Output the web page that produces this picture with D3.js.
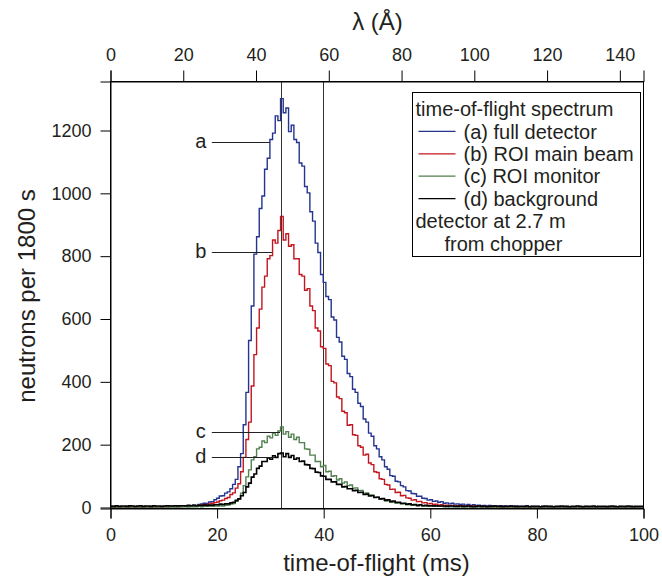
<!DOCTYPE html>
<html>
<head>
<meta charset="utf-8">
<script src="https://cdn.jsdelivr.net/npm/d3@7"></script>
<style>
  body { margin: 0; background: #fff; }
  #chart text { font-family: "Liberation Sans", Arial, Helvetica, sans-serif; fill: #231f20; }
</style>
</head>
<body>
<div id="chart"></div>
<script>
// time-of-flight bins: 0.5 ms wide, starting at 0 ms
const tofStart = 0;
const binWidth = 0.5;
const tofTicks = [0, 20, 40, 60, 80, 100];
const lambdaTicks = [0, 20, 40, 60, 80, 100, 120, 140];
const lambdaMax = 146.5; // lambda at 100 ms for 2.7 m flight path
const countTicks = [0, 200, 400, 600, 800, 1000, 1200];
const markerTimes = [32, 40];

// (a) full detector
const fullDetector = [
  1,0,2,1,0,1,2,0,1,1, 2,0,1,2,1,0,2,1,1,2,
  2,1,3,2,1,3,2,4,2,3,
  4,6,5,8,10,12,11,16,17,23,
  28,35,36,44,48,58,72,88,128,170,
  262,365,530,640,805,860,950,990,1075,1110,
  1170,1190,1245,1230,1300,1255,1270,1195,1215,1170,
  1160,1095,1085,1020,1000,940,910,840,810,740,
  715,670,660,605,595,540,525,480,470,425,
  415,375,365,330,320,280,270,235,225,195,
  185,160,150,128,120,100,98,82,80,68,
  64,52,51,43,42,34,34,28,27,22,
  23,18,19,15,17,12,13,10,12,9,
  10,8,9,6,8,5,7,5,6,4,
  5,3,5,3,4,2,4,3,3,2,
  3,2,3,1,2,2,3,1,2,2,
  2,1,2,1,1,2,1,1,2,1,
  1,2,1,1,1,2,1,1,2,1,
  1,1,2,1,1,1,2,1,0,1,
  1,2,1,1,1,1,2,1,1,1
];

// (b) ROI main beam
const mainBeam = [
  0,1,0,1,1,0,1,0,2,1, 0,1,1,0,1,2,1,0,1,1,
  1,2,1,2,2,1,3,2,2,3,
  3,4,4,5,6,7,8,10,12,14,
  16,20,22,27,30,40,45,60,74,112,
  158,215,270,385,485,570,630,700,735,790,
  800,850,840,880,925,850,870,830,835,790,
  790,740,735,690,695,640,625,570,560,510,
  505,455,450,400,395,350,345,305,300,260,
  262,230,228,195,190,165,168,140,135,112,
  110,90,88,72,70,56,57,46,47,36,
  37,29,28,22,23,17,18,13,14,10,
  11,8,9,6,7,5,6,4,5,3,
  4,3,4,2,3,2,3,2,2,1,
  2,1,2,1,2,1,1,2,1,1,
  1,1,2,1,1,0,1,1,1,0,
  1,1,0,1,1,0,1,1,0,1,
  1,0,1,1,0,1,0,1,1,0,
  1,0,1,1,0,1,0,1,1,0,
  1,0,1,0,1,1,0,1,0,1
];

// (c) ROI monitor
const monitor = [
  0,0,1,0,0,1,0,0,1,0, 0,1,0,0,1,0,0,1,0,0,
  1,0,1,0,1,1,0,1,1,0,
  1,1,1,2,1,2,2,3,2,3,
  3,4,3,5,6,9,11,18,26,44,
  68,96,118,150,160,185,190,210,205,225,
  220,235,228,242,255,232,240,222,232,215,
  222,205,205,185,184,165,165,145,145,128,
  132,112,114,98,100,86,90,76,80,68,
  70,60,61,52,53,44,45,38,38,31,
  31,25,25,19,20,15,16,12,13,9,
  10,7,8,5,6,4,5,3,4,2,
  3,2,3,2,2,1,2,1,1,1,
  1,1,0,1,1,0,1,0,1,0,
  1,0,0,1,0,1,0,0,1,0,
  0,1,0,0,1,0,0,1,0,0,
  1,0,0,0,1,0,1,0,0,1,
  0,0,1,0,0,1,0,0,0,1,
  0,1,0,0,1,0,0,1,0,0,
  1,0,0,1,0,0,1,0,0,1
];

// (d) background
const background = [
  3,2,4,2,3,3,2,4,3,2, 3,4,2,3,3,2,4,3,3,2,
  3,4,3,3,4,3,4,4,3,5,
  4,5,4,5,5,6,5,6,6,7,
  7,9,8,10,10,13,15,21,26,36,
  46,64,76,95,105,123,130,145,145,156,
  152,163,158,170,172,160,170,158,164,152,
  156,145,146,135,134,123,122,111,110,99,
  98,88,88,80,80,72,72,64,65,58,
  58,52,53,46,47,40,41,35,36,30,
  31,26,27,22,23,18,19,15,15,12,
  12,9,10,7,8,5,7,4,5,4,
  4,3,4,3,3,3,2,3,3,2,
  2,3,2,2,3,2,1,2,3,2,
  2,1,2,2,3,2,2,1,2,2,
  3,2,1,2,2,2,3,1,2,2,
  2,1,2,3,2,2,1,2,2,3,
  2,2,1,2,2,3,2,1,2,2,
  2,3,1,2,2,2,1,2,3,2,
  1,2,2,2,3,2,1,2,2,2
];

const seriesNames = ["(a) full detector", "(b) ROI main beam", "(c) ROI monitor", "(d) background"];
const seriesColors = ["#24348f", "#c3161e", "#52804f", "#000000"];
const seriesWidths = [1.4, 1.4, 1.4, 1.6];
const seriesValues = [fullDetector, mainBeam, monitor, background];

// letter labels with leader lines: [letter, count level, start ms, end ms]
const letterLabels = [
  ["a", 1162, 19.1, 30.0],
  ["b", 812, 19.1, 30.4],
  ["c", 239, 19.1, 31.9],
  ["d", 159, 19.1, 31.0]
];
const legendLines = ["time-of-flight spectrum"].concat(seriesNames, ["detector at 2.7 m", "from chopper"]);

function drawChart() {
  const width = 662;
  const height = 582;
  const margin = { top: 81, right: 19, bottom: 74, left: 110 };
  const svg = d3
    .select("#chart")
    .append("svg")
    .attr("width", width)
    .attr("height", height);
  const plotW = width - margin.left - margin.right;
  const plotH = height - margin.top - margin.bottom;

  const xScale = d3.scaleLinear().domain([0, 100]).range([0, plotW]);
  const xTop = d3.scaleLinear().domain([0, lambdaMax]).range([0, plotW]);
  const yScale = d3.scaleLinear().domain([-3.2, 1356]).range([plotH, 0]);

  const g = svg
    .append("g")
    .attr("transform", "translate(" + margin.left + "," + margin.top + ")");

  svg
    .append("clipPath")
    .attr("id", "plotClip")
    .append("rect")
    .attr("x", 0)
    .attr("y", 0)
    .attr("width", plotW)
    .attr("height", plotH);

  // marker lines
  g.selectAll(".marker")
    .data(markerTimes)
    .enter()
    .append("line")
    .attr("x1", function (d) { return Math.round(xScale(d)) + 0.5; })
    .attr("x2", function (d) { return Math.round(xScale(d)) + 0.5; })
    .attr("y1", 0)
    .attr("y2", plotH)
    .style("stroke", "#333")
    .style("stroke-width", 1);

  // spectra as step curves
  const line = d3
    .line()
    .curve(d3.curveStepAfter)
    .x(function (d) { return xScale(d[0]); })
    .y(function (d) { return yScale(d[1]); });

  const curves = g.append("g").attr("clip-path", "url(#plotClip)");
  seriesValues.forEach(function (vals, s) {
    const pts = vals.map(function (v, i) {
      return [tofStart + i * binWidth, v];
    });
    pts.push([tofStart + vals.length * binWidth, vals[vals.length - 1]]);
    curves
      .append("path")
      .attr("d", line(pts))
      .style("fill", "none")
      .style("stroke", seriesColors[s])
      .style("stroke-width", seriesWidths[s]);
  });

  // frame
  g.append("rect")
    .attr("x", 0.5)
    .attr("y", 0.5)
    .attr("width", plotW)
    .attr("height", plotH)
    .style("fill", "none")
    .style("stroke", "#000")
    .style("stroke-width", 1);

  // axis-x bottom
  const axB = g
    .append("g")
    .attr("transform", "translate(0.5," + (plotH + 0.5) + ")")
    .call(d3.axisBottom(xScale).tickValues(tofTicks).tickSize(10).tickPadding(10).tickFormat(d3.format("d")));
  // axis-x top (wavelength)
  const axT = g
    .append("g")
    .attr("transform", "translate(0.5,0.5)")
    .call(d3.axisTop(xTop).tickValues(lambdaTicks).tickSize(11).tickPadding(10).tickFormat(d3.format("d")));
  // axis-y
  const axL = g
    .append("g")
    .attr("transform", "translate(0.5,0.5)")
    .call(d3.axisLeft(yScale).tickValues(countTicks).tickSize(10).tickPadding(9).tickFormat(d3.format("d")));

  [axB, axT, axL].forEach(function (ax) {
    ax.selectAll("path.domain").style("stroke", "#000");
    ax.selectAll(".tick line").style("stroke", "#000");
    ax.selectAll("text")
      .attr("font-family", null)
      .style("font-size", "18px")
      .style("fill", "#231f20");
  });

  // axis titles
  svg
    .append("text")
    .attr("x", margin.left + plotW / 2)
    .attr("y", 571)
    .attr("text-anchor", "middle")
    .style("font-size", "24px")
    .text("time-of-flight (ms)");

  svg
    .append("text")
    .attr("x", margin.left + plotW / 2 + 1)
    .attr("y", 30)
    .attr("text-anchor", "middle")
    .style("font-size", "24px")
    .text("λ (Å)");

  svg
    .append("text")
    .attr("transform", "translate(35," + (margin.top + 215) + ") rotate(-90)")
    .attr("text-anchor", "middle")
    .style("font-size", "24px")
    .text("neutrons per 1800 s");

  // letter labels
  letterLabels.forEach(function (lb) {
    const yy = Math.round(yScale(lb[1])) + 0.5;
    g.append("line")
      .attr("x1", xScale(lb[2]))
      .attr("x2", xScale(lb[3]))
      .attr("y1", yy)
      .attr("y2", yy)
      .style("stroke", "#222")
      .style("stroke-width", 1);
    g.append("text")
      .attr("x", xScale(lb[2]) - 11)
      .attr("y", yy + 5.5)
      .attr("text-anchor", "middle")
      .style("font-size", "20px")
      .text(lb[0]);
  });

  // legend
  const legend = svg.append("g").attr("transform", "translate(412.5,92.5)");
  legend
    .append("rect")
    .attr("width", 228)
    .attr("height", 164)
    .style("fill", "#fff")
    .style("stroke", "#000")
    .style("stroke-width", 1);

  legendLines.forEach(function (txt, i) {
    const yy = 16.5 + i * 22.4;
    let tx = 3;
    if (i >= 1 && i <= 4) {
      legend
        .append("line")
        .attr("x1", 6)
        .attr("x2", 43)
        .attr("y1", yy)
        .attr("y2", yy)
        .style("stroke", seriesColors[i - 1])
        .style("stroke-width", 1.2);
      tx = 51;
    }
    if (i === 6) tx = 32;
    legend
      .append("text")
      .attr("x", tx)
      .attr("y", yy)
      .attr("dy", "0.36em")
      .style("font-size", "20px")
      .text(txt);
  });
}

drawChart();
</script>
</body>
</html>
